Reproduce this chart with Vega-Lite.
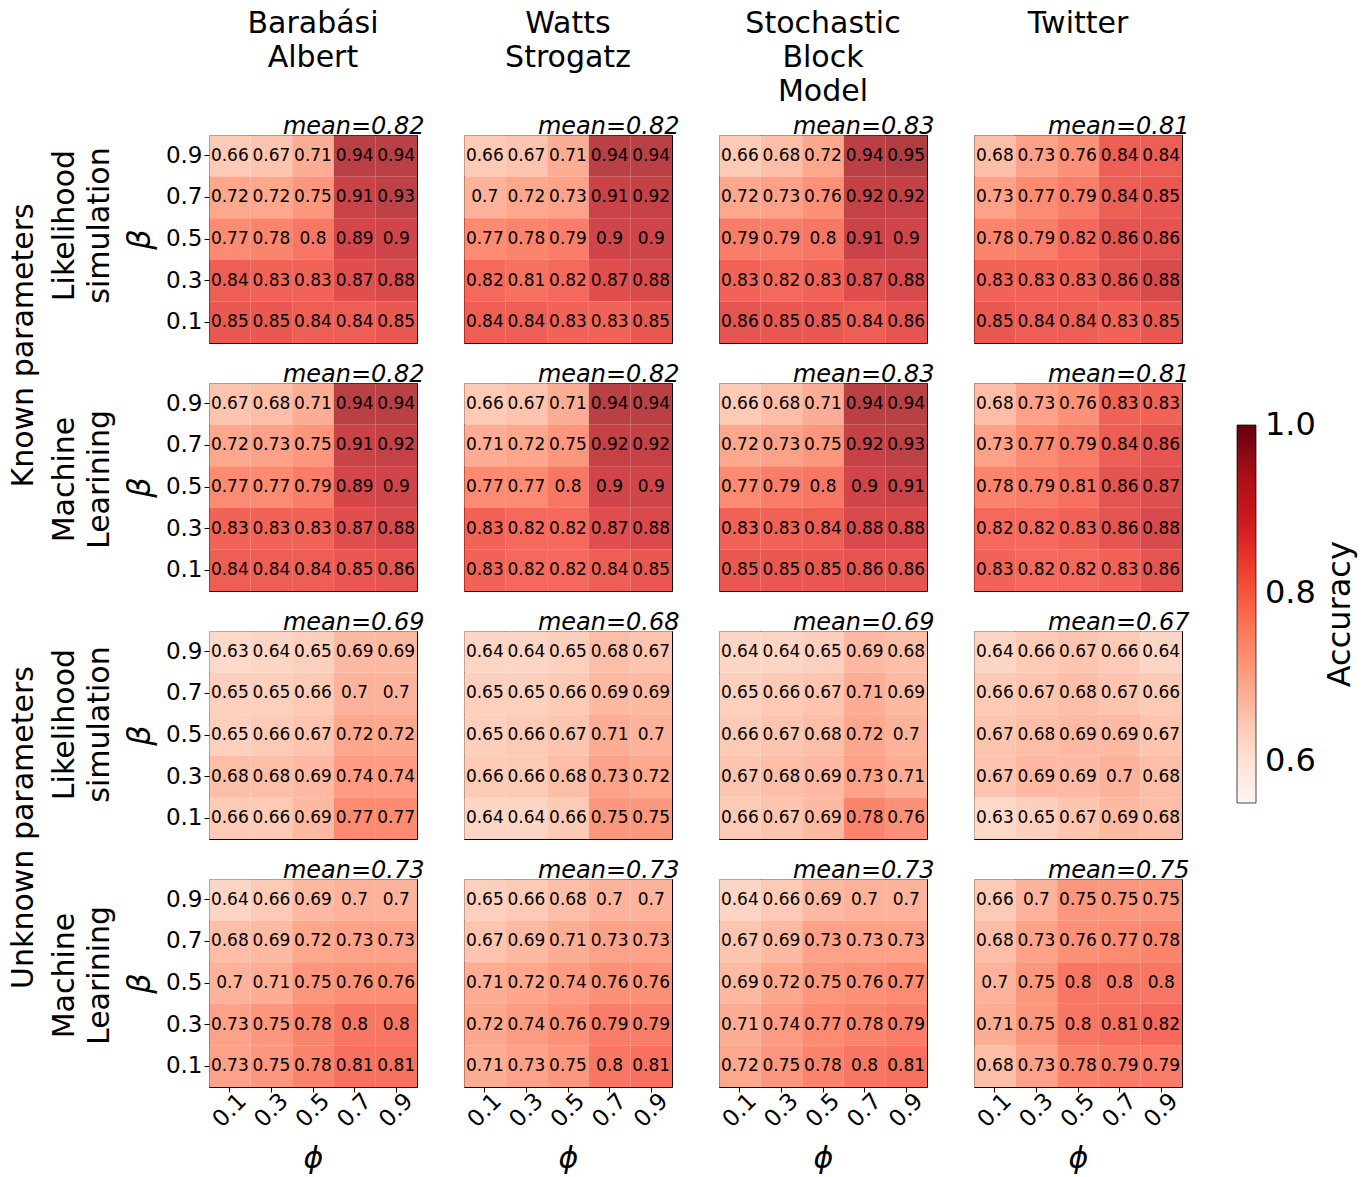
{
"$schema":"https://vega.github.io/schema/vega-lite/v6.json",
"padding":{"left":8,"top":8,"right":5,"bottom":5},
"background":"white",
"title":{"text":"Accuracy","orient":"right","angle":-90,"baseline":"top","anchor":"middle","fontSize":32,"offset":10,"dx":-23,"dy":-33},
"config":{
 "font":"DejaVu Sans",
 "view":{"stroke":"black","strokeWidth":1},
 "axis":{"grid":false,"domain":false,"labelFont":"DejaVu Sans","titleFont":"DejaVu Sans","labelColor":"black","titleColor":"black","tickColor":"black","titleFontWeight":"normal"},
 "title":{"font":"DejaVu Sans","fontWeight":"normal","color":"black"},
 "legend":{"gradientLength":378,"gradientThickness":19,"labelFontSize":32,"titleFontSize":32,"titleFontWeight":"normal","labelFont":"DejaVu Sans","titleFont":"DejaVu Sans","labelColor":"black","titleColor":"black","labelOverlap":false,"gradientStrokeColor":"black","gradientStrokeWidth":0.7}
},
"datasets":{
"kls_ba":[{"phi":0.1,"beta":0.9,"acc":0.66},{"phi":0.3,"beta":0.9,"acc":0.67},{"phi":0.5,"beta":0.9,"acc":0.71},{"phi":0.7,"beta":0.9,"acc":0.94},{"phi":0.9,"beta":0.9,"acc":0.94},{"phi":0.1,"beta":0.7,"acc":0.72},{"phi":0.3,"beta":0.7,"acc":0.72},{"phi":0.5,"beta":0.7,"acc":0.75},{"phi":0.7,"beta":0.7,"acc":0.91},{"phi":0.9,"beta":0.7,"acc":0.93},{"phi":0.1,"beta":0.5,"acc":0.77},{"phi":0.3,"beta":0.5,"acc":0.78},{"phi":0.5,"beta":0.5,"acc":0.8},{"phi":0.7,"beta":0.5,"acc":0.89},{"phi":0.9,"beta":0.5,"acc":0.9},{"phi":0.1,"beta":0.3,"acc":0.84},{"phi":0.3,"beta":0.3,"acc":0.83},{"phi":0.5,"beta":0.3,"acc":0.83},{"phi":0.7,"beta":0.3,"acc":0.87},{"phi":0.9,"beta":0.3,"acc":0.88},{"phi":0.1,"beta":0.1,"acc":0.85},{"phi":0.3,"beta":0.1,"acc":0.85},{"phi":0.5,"beta":0.1,"acc":0.84},{"phi":0.7,"beta":0.1,"acc":0.84},{"phi":0.9,"beta":0.1,"acc":0.85}],
"kls_ws":[{"phi":0.1,"beta":0.9,"acc":0.66},{"phi":0.3,"beta":0.9,"acc":0.67},{"phi":0.5,"beta":0.9,"acc":0.71},{"phi":0.7,"beta":0.9,"acc":0.94},{"phi":0.9,"beta":0.9,"acc":0.94},{"phi":0.1,"beta":0.7,"acc":0.7},{"phi":0.3,"beta":0.7,"acc":0.72},{"phi":0.5,"beta":0.7,"acc":0.73},{"phi":0.7,"beta":0.7,"acc":0.91},{"phi":0.9,"beta":0.7,"acc":0.92},{"phi":0.1,"beta":0.5,"acc":0.77},{"phi":0.3,"beta":0.5,"acc":0.78},{"phi":0.5,"beta":0.5,"acc":0.79},{"phi":0.7,"beta":0.5,"acc":0.9},{"phi":0.9,"beta":0.5,"acc":0.9},{"phi":0.1,"beta":0.3,"acc":0.82},{"phi":0.3,"beta":0.3,"acc":0.81},{"phi":0.5,"beta":0.3,"acc":0.82},{"phi":0.7,"beta":0.3,"acc":0.87},{"phi":0.9,"beta":0.3,"acc":0.88},{"phi":0.1,"beta":0.1,"acc":0.84},{"phi":0.3,"beta":0.1,"acc":0.84},{"phi":0.5,"beta":0.1,"acc":0.83},{"phi":0.7,"beta":0.1,"acc":0.83},{"phi":0.9,"beta":0.1,"acc":0.85}],
"kls_sbm":[{"phi":0.1,"beta":0.9,"acc":0.66},{"phi":0.3,"beta":0.9,"acc":0.68},{"phi":0.5,"beta":0.9,"acc":0.72},{"phi":0.7,"beta":0.9,"acc":0.94},{"phi":0.9,"beta":0.9,"acc":0.95},{"phi":0.1,"beta":0.7,"acc":0.72},{"phi":0.3,"beta":0.7,"acc":0.73},{"phi":0.5,"beta":0.7,"acc":0.76},{"phi":0.7,"beta":0.7,"acc":0.92},{"phi":0.9,"beta":0.7,"acc":0.92},{"phi":0.1,"beta":0.5,"acc":0.79},{"phi":0.3,"beta":0.5,"acc":0.79},{"phi":0.5,"beta":0.5,"acc":0.8},{"phi":0.7,"beta":0.5,"acc":0.91},{"phi":0.9,"beta":0.5,"acc":0.9},{"phi":0.1,"beta":0.3,"acc":0.83},{"phi":0.3,"beta":0.3,"acc":0.82},{"phi":0.5,"beta":0.3,"acc":0.83},{"phi":0.7,"beta":0.3,"acc":0.87},{"phi":0.9,"beta":0.3,"acc":0.88},{"phi":0.1,"beta":0.1,"acc":0.86},{"phi":0.3,"beta":0.1,"acc":0.85},{"phi":0.5,"beta":0.1,"acc":0.85},{"phi":0.7,"beta":0.1,"acc":0.84},{"phi":0.9,"beta":0.1,"acc":0.86}],
"kls_tw":[{"phi":0.1,"beta":0.9,"acc":0.68},{"phi":0.3,"beta":0.9,"acc":0.73},{"phi":0.5,"beta":0.9,"acc":0.76},{"phi":0.7,"beta":0.9,"acc":0.84},{"phi":0.9,"beta":0.9,"acc":0.84},{"phi":0.1,"beta":0.7,"acc":0.73},{"phi":0.3,"beta":0.7,"acc":0.77},{"phi":0.5,"beta":0.7,"acc":0.79},{"phi":0.7,"beta":0.7,"acc":0.84},{"phi":0.9,"beta":0.7,"acc":0.85},{"phi":0.1,"beta":0.5,"acc":0.78},{"phi":0.3,"beta":0.5,"acc":0.79},{"phi":0.5,"beta":0.5,"acc":0.82},{"phi":0.7,"beta":0.5,"acc":0.86},{"phi":0.9,"beta":0.5,"acc":0.86},{"phi":0.1,"beta":0.3,"acc":0.83},{"phi":0.3,"beta":0.3,"acc":0.83},{"phi":0.5,"beta":0.3,"acc":0.83},{"phi":0.7,"beta":0.3,"acc":0.86},{"phi":0.9,"beta":0.3,"acc":0.88},{"phi":0.1,"beta":0.1,"acc":0.85},{"phi":0.3,"beta":0.1,"acc":0.84},{"phi":0.5,"beta":0.1,"acc":0.84},{"phi":0.7,"beta":0.1,"acc":0.83},{"phi":0.9,"beta":0.1,"acc":0.85}],
"kml_ba":[{"phi":0.1,"beta":0.9,"acc":0.67},{"phi":0.3,"beta":0.9,"acc":0.68},{"phi":0.5,"beta":0.9,"acc":0.71},{"phi":0.7,"beta":0.9,"acc":0.94},{"phi":0.9,"beta":0.9,"acc":0.94},{"phi":0.1,"beta":0.7,"acc":0.72},{"phi":0.3,"beta":0.7,"acc":0.73},{"phi":0.5,"beta":0.7,"acc":0.75},{"phi":0.7,"beta":0.7,"acc":0.91},{"phi":0.9,"beta":0.7,"acc":0.92},{"phi":0.1,"beta":0.5,"acc":0.77},{"phi":0.3,"beta":0.5,"acc":0.77},{"phi":0.5,"beta":0.5,"acc":0.79},{"phi":0.7,"beta":0.5,"acc":0.89},{"phi":0.9,"beta":0.5,"acc":0.9},{"phi":0.1,"beta":0.3,"acc":0.83},{"phi":0.3,"beta":0.3,"acc":0.83},{"phi":0.5,"beta":0.3,"acc":0.83},{"phi":0.7,"beta":0.3,"acc":0.87},{"phi":0.9,"beta":0.3,"acc":0.88},{"phi":0.1,"beta":0.1,"acc":0.84},{"phi":0.3,"beta":0.1,"acc":0.84},{"phi":0.5,"beta":0.1,"acc":0.84},{"phi":0.7,"beta":0.1,"acc":0.85},{"phi":0.9,"beta":0.1,"acc":0.86}],
"kml_ws":[{"phi":0.1,"beta":0.9,"acc":0.66},{"phi":0.3,"beta":0.9,"acc":0.67},{"phi":0.5,"beta":0.9,"acc":0.71},{"phi":0.7,"beta":0.9,"acc":0.94},{"phi":0.9,"beta":0.9,"acc":0.94},{"phi":0.1,"beta":0.7,"acc":0.71},{"phi":0.3,"beta":0.7,"acc":0.72},{"phi":0.5,"beta":0.7,"acc":0.75},{"phi":0.7,"beta":0.7,"acc":0.92},{"phi":0.9,"beta":0.7,"acc":0.92},{"phi":0.1,"beta":0.5,"acc":0.77},{"phi":0.3,"beta":0.5,"acc":0.77},{"phi":0.5,"beta":0.5,"acc":0.8},{"phi":0.7,"beta":0.5,"acc":0.9},{"phi":0.9,"beta":0.5,"acc":0.9},{"phi":0.1,"beta":0.3,"acc":0.83},{"phi":0.3,"beta":0.3,"acc":0.82},{"phi":0.5,"beta":0.3,"acc":0.82},{"phi":0.7,"beta":0.3,"acc":0.87},{"phi":0.9,"beta":0.3,"acc":0.88},{"phi":0.1,"beta":0.1,"acc":0.83},{"phi":0.3,"beta":0.1,"acc":0.82},{"phi":0.5,"beta":0.1,"acc":0.82},{"phi":0.7,"beta":0.1,"acc":0.84},{"phi":0.9,"beta":0.1,"acc":0.85}],
"kml_sbm":[{"phi":0.1,"beta":0.9,"acc":0.66},{"phi":0.3,"beta":0.9,"acc":0.68},{"phi":0.5,"beta":0.9,"acc":0.71},{"phi":0.7,"beta":0.9,"acc":0.94},{"phi":0.9,"beta":0.9,"acc":0.94},{"phi":0.1,"beta":0.7,"acc":0.72},{"phi":0.3,"beta":0.7,"acc":0.73},{"phi":0.5,"beta":0.7,"acc":0.75},{"phi":0.7,"beta":0.7,"acc":0.92},{"phi":0.9,"beta":0.7,"acc":0.93},{"phi":0.1,"beta":0.5,"acc":0.77},{"phi":0.3,"beta":0.5,"acc":0.79},{"phi":0.5,"beta":0.5,"acc":0.8},{"phi":0.7,"beta":0.5,"acc":0.9},{"phi":0.9,"beta":0.5,"acc":0.91},{"phi":0.1,"beta":0.3,"acc":0.83},{"phi":0.3,"beta":0.3,"acc":0.83},{"phi":0.5,"beta":0.3,"acc":0.84},{"phi":0.7,"beta":0.3,"acc":0.88},{"phi":0.9,"beta":0.3,"acc":0.88},{"phi":0.1,"beta":0.1,"acc":0.85},{"phi":0.3,"beta":0.1,"acc":0.85},{"phi":0.5,"beta":0.1,"acc":0.85},{"phi":0.7,"beta":0.1,"acc":0.86},{"phi":0.9,"beta":0.1,"acc":0.86}],
"kml_tw":[{"phi":0.1,"beta":0.9,"acc":0.68},{"phi":0.3,"beta":0.9,"acc":0.73},{"phi":0.5,"beta":0.9,"acc":0.76},{"phi":0.7,"beta":0.9,"acc":0.83},{"phi":0.9,"beta":0.9,"acc":0.83},{"phi":0.1,"beta":0.7,"acc":0.73},{"phi":0.3,"beta":0.7,"acc":0.77},{"phi":0.5,"beta":0.7,"acc":0.79},{"phi":0.7,"beta":0.7,"acc":0.84},{"phi":0.9,"beta":0.7,"acc":0.86},{"phi":0.1,"beta":0.5,"acc":0.78},{"phi":0.3,"beta":0.5,"acc":0.79},{"phi":0.5,"beta":0.5,"acc":0.81},{"phi":0.7,"beta":0.5,"acc":0.86},{"phi":0.9,"beta":0.5,"acc":0.87},{"phi":0.1,"beta":0.3,"acc":0.82},{"phi":0.3,"beta":0.3,"acc":0.82},{"phi":0.5,"beta":0.3,"acc":0.83},{"phi":0.7,"beta":0.3,"acc":0.86},{"phi":0.9,"beta":0.3,"acc":0.88},{"phi":0.1,"beta":0.1,"acc":0.83},{"phi":0.3,"beta":0.1,"acc":0.82},{"phi":0.5,"beta":0.1,"acc":0.82},{"phi":0.7,"beta":0.1,"acc":0.83},{"phi":0.9,"beta":0.1,"acc":0.86}],
"uls_ba":[{"phi":0.1,"beta":0.9,"acc":0.63},{"phi":0.3,"beta":0.9,"acc":0.64},{"phi":0.5,"beta":0.9,"acc":0.65},{"phi":0.7,"beta":0.9,"acc":0.69},{"phi":0.9,"beta":0.9,"acc":0.69},{"phi":0.1,"beta":0.7,"acc":0.65},{"phi":0.3,"beta":0.7,"acc":0.65},{"phi":0.5,"beta":0.7,"acc":0.66},{"phi":0.7,"beta":0.7,"acc":0.7},{"phi":0.9,"beta":0.7,"acc":0.7},{"phi":0.1,"beta":0.5,"acc":0.65},{"phi":0.3,"beta":0.5,"acc":0.66},{"phi":0.5,"beta":0.5,"acc":0.67},{"phi":0.7,"beta":0.5,"acc":0.72},{"phi":0.9,"beta":0.5,"acc":0.72},{"phi":0.1,"beta":0.3,"acc":0.68},{"phi":0.3,"beta":0.3,"acc":0.68},{"phi":0.5,"beta":0.3,"acc":0.69},{"phi":0.7,"beta":0.3,"acc":0.74},{"phi":0.9,"beta":0.3,"acc":0.74},{"phi":0.1,"beta":0.1,"acc":0.66},{"phi":0.3,"beta":0.1,"acc":0.66},{"phi":0.5,"beta":0.1,"acc":0.69},{"phi":0.7,"beta":0.1,"acc":0.77},{"phi":0.9,"beta":0.1,"acc":0.77}],
"uls_ws":[{"phi":0.1,"beta":0.9,"acc":0.64},{"phi":0.3,"beta":0.9,"acc":0.64},{"phi":0.5,"beta":0.9,"acc":0.65},{"phi":0.7,"beta":0.9,"acc":0.68},{"phi":0.9,"beta":0.9,"acc":0.67},{"phi":0.1,"beta":0.7,"acc":0.65},{"phi":0.3,"beta":0.7,"acc":0.65},{"phi":0.5,"beta":0.7,"acc":0.66},{"phi":0.7,"beta":0.7,"acc":0.69},{"phi":0.9,"beta":0.7,"acc":0.69},{"phi":0.1,"beta":0.5,"acc":0.65},{"phi":0.3,"beta":0.5,"acc":0.66},{"phi":0.5,"beta":0.5,"acc":0.67},{"phi":0.7,"beta":0.5,"acc":0.71},{"phi":0.9,"beta":0.5,"acc":0.7},{"phi":0.1,"beta":0.3,"acc":0.66},{"phi":0.3,"beta":0.3,"acc":0.66},{"phi":0.5,"beta":0.3,"acc":0.68},{"phi":0.7,"beta":0.3,"acc":0.73},{"phi":0.9,"beta":0.3,"acc":0.72},{"phi":0.1,"beta":0.1,"acc":0.64},{"phi":0.3,"beta":0.1,"acc":0.64},{"phi":0.5,"beta":0.1,"acc":0.66},{"phi":0.7,"beta":0.1,"acc":0.75},{"phi":0.9,"beta":0.1,"acc":0.75}],
"uls_sbm":[{"phi":0.1,"beta":0.9,"acc":0.64},{"phi":0.3,"beta":0.9,"acc":0.64},{"phi":0.5,"beta":0.9,"acc":0.65},{"phi":0.7,"beta":0.9,"acc":0.69},{"phi":0.9,"beta":0.9,"acc":0.68},{"phi":0.1,"beta":0.7,"acc":0.65},{"phi":0.3,"beta":0.7,"acc":0.66},{"phi":0.5,"beta":0.7,"acc":0.67},{"phi":0.7,"beta":0.7,"acc":0.71},{"phi":0.9,"beta":0.7,"acc":0.69},{"phi":0.1,"beta":0.5,"acc":0.66},{"phi":0.3,"beta":0.5,"acc":0.67},{"phi":0.5,"beta":0.5,"acc":0.68},{"phi":0.7,"beta":0.5,"acc":0.72},{"phi":0.9,"beta":0.5,"acc":0.7},{"phi":0.1,"beta":0.3,"acc":0.67},{"phi":0.3,"beta":0.3,"acc":0.68},{"phi":0.5,"beta":0.3,"acc":0.69},{"phi":0.7,"beta":0.3,"acc":0.73},{"phi":0.9,"beta":0.3,"acc":0.71},{"phi":0.1,"beta":0.1,"acc":0.66},{"phi":0.3,"beta":0.1,"acc":0.67},{"phi":0.5,"beta":0.1,"acc":0.69},{"phi":0.7,"beta":0.1,"acc":0.78},{"phi":0.9,"beta":0.1,"acc":0.76}],
"uls_tw":[{"phi":0.1,"beta":0.9,"acc":0.64},{"phi":0.3,"beta":0.9,"acc":0.66},{"phi":0.5,"beta":0.9,"acc":0.67},{"phi":0.7,"beta":0.9,"acc":0.66},{"phi":0.9,"beta":0.9,"acc":0.64},{"phi":0.1,"beta":0.7,"acc":0.66},{"phi":0.3,"beta":0.7,"acc":0.67},{"phi":0.5,"beta":0.7,"acc":0.68},{"phi":0.7,"beta":0.7,"acc":0.67},{"phi":0.9,"beta":0.7,"acc":0.66},{"phi":0.1,"beta":0.5,"acc":0.67},{"phi":0.3,"beta":0.5,"acc":0.68},{"phi":0.5,"beta":0.5,"acc":0.69},{"phi":0.7,"beta":0.5,"acc":0.69},{"phi":0.9,"beta":0.5,"acc":0.67},{"phi":0.1,"beta":0.3,"acc":0.67},{"phi":0.3,"beta":0.3,"acc":0.69},{"phi":0.5,"beta":0.3,"acc":0.69},{"phi":0.7,"beta":0.3,"acc":0.7},{"phi":0.9,"beta":0.3,"acc":0.68},{"phi":0.1,"beta":0.1,"acc":0.63},{"phi":0.3,"beta":0.1,"acc":0.65},{"phi":0.5,"beta":0.1,"acc":0.67},{"phi":0.7,"beta":0.1,"acc":0.69},{"phi":0.9,"beta":0.1,"acc":0.68}],
"uml_ba":[{"phi":0.1,"beta":0.9,"acc":0.64},{"phi":0.3,"beta":0.9,"acc":0.66},{"phi":0.5,"beta":0.9,"acc":0.69},{"phi":0.7,"beta":0.9,"acc":0.7},{"phi":0.9,"beta":0.9,"acc":0.7},{"phi":0.1,"beta":0.7,"acc":0.68},{"phi":0.3,"beta":0.7,"acc":0.69},{"phi":0.5,"beta":0.7,"acc":0.72},{"phi":0.7,"beta":0.7,"acc":0.73},{"phi":0.9,"beta":0.7,"acc":0.73},{"phi":0.1,"beta":0.5,"acc":0.7},{"phi":0.3,"beta":0.5,"acc":0.71},{"phi":0.5,"beta":0.5,"acc":0.75},{"phi":0.7,"beta":0.5,"acc":0.76},{"phi":0.9,"beta":0.5,"acc":0.76},{"phi":0.1,"beta":0.3,"acc":0.73},{"phi":0.3,"beta":0.3,"acc":0.75},{"phi":0.5,"beta":0.3,"acc":0.78},{"phi":0.7,"beta":0.3,"acc":0.8},{"phi":0.9,"beta":0.3,"acc":0.8},{"phi":0.1,"beta":0.1,"acc":0.73},{"phi":0.3,"beta":0.1,"acc":0.75},{"phi":0.5,"beta":0.1,"acc":0.78},{"phi":0.7,"beta":0.1,"acc":0.81},{"phi":0.9,"beta":0.1,"acc":0.81}],
"uml_ws":[{"phi":0.1,"beta":0.9,"acc":0.65},{"phi":0.3,"beta":0.9,"acc":0.66},{"phi":0.5,"beta":0.9,"acc":0.68},{"phi":0.7,"beta":0.9,"acc":0.7},{"phi":0.9,"beta":0.9,"acc":0.7},{"phi":0.1,"beta":0.7,"acc":0.67},{"phi":0.3,"beta":0.7,"acc":0.69},{"phi":0.5,"beta":0.7,"acc":0.71},{"phi":0.7,"beta":0.7,"acc":0.73},{"phi":0.9,"beta":0.7,"acc":0.73},{"phi":0.1,"beta":0.5,"acc":0.71},{"phi":0.3,"beta":0.5,"acc":0.72},{"phi":0.5,"beta":0.5,"acc":0.74},{"phi":0.7,"beta":0.5,"acc":0.76},{"phi":0.9,"beta":0.5,"acc":0.76},{"phi":0.1,"beta":0.3,"acc":0.72},{"phi":0.3,"beta":0.3,"acc":0.74},{"phi":0.5,"beta":0.3,"acc":0.76},{"phi":0.7,"beta":0.3,"acc":0.79},{"phi":0.9,"beta":0.3,"acc":0.79},{"phi":0.1,"beta":0.1,"acc":0.71},{"phi":0.3,"beta":0.1,"acc":0.73},{"phi":0.5,"beta":0.1,"acc":0.75},{"phi":0.7,"beta":0.1,"acc":0.8},{"phi":0.9,"beta":0.1,"acc":0.81}],
"uml_sbm":[{"phi":0.1,"beta":0.9,"acc":0.64},{"phi":0.3,"beta":0.9,"acc":0.66},{"phi":0.5,"beta":0.9,"acc":0.69},{"phi":0.7,"beta":0.9,"acc":0.7},{"phi":0.9,"beta":0.9,"acc":0.7},{"phi":0.1,"beta":0.7,"acc":0.67},{"phi":0.3,"beta":0.7,"acc":0.69},{"phi":0.5,"beta":0.7,"acc":0.73},{"phi":0.7,"beta":0.7,"acc":0.73},{"phi":0.9,"beta":0.7,"acc":0.73},{"phi":0.1,"beta":0.5,"acc":0.69},{"phi":0.3,"beta":0.5,"acc":0.72},{"phi":0.5,"beta":0.5,"acc":0.75},{"phi":0.7,"beta":0.5,"acc":0.76},{"phi":0.9,"beta":0.5,"acc":0.77},{"phi":0.1,"beta":0.3,"acc":0.71},{"phi":0.3,"beta":0.3,"acc":0.74},{"phi":0.5,"beta":0.3,"acc":0.77},{"phi":0.7,"beta":0.3,"acc":0.78},{"phi":0.9,"beta":0.3,"acc":0.79},{"phi":0.1,"beta":0.1,"acc":0.72},{"phi":0.3,"beta":0.1,"acc":0.75},{"phi":0.5,"beta":0.1,"acc":0.78},{"phi":0.7,"beta":0.1,"acc":0.8},{"phi":0.9,"beta":0.1,"acc":0.81}],
"uml_tw":[{"phi":0.1,"beta":0.9,"acc":0.66},{"phi":0.3,"beta":0.9,"acc":0.7},{"phi":0.5,"beta":0.9,"acc":0.75},{"phi":0.7,"beta":0.9,"acc":0.75},{"phi":0.9,"beta":0.9,"acc":0.75},{"phi":0.1,"beta":0.7,"acc":0.68},{"phi":0.3,"beta":0.7,"acc":0.73},{"phi":0.5,"beta":0.7,"acc":0.76},{"phi":0.7,"beta":0.7,"acc":0.77},{"phi":0.9,"beta":0.7,"acc":0.78},{"phi":0.1,"beta":0.5,"acc":0.7},{"phi":0.3,"beta":0.5,"acc":0.75},{"phi":0.5,"beta":0.5,"acc":0.8},{"phi":0.7,"beta":0.5,"acc":0.8},{"phi":0.9,"beta":0.5,"acc":0.8},{"phi":0.1,"beta":0.3,"acc":0.71},{"phi":0.3,"beta":0.3,"acc":0.75},{"phi":0.5,"beta":0.3,"acc":0.8},{"phi":0.7,"beta":0.3,"acc":0.81},{"phi":0.9,"beta":0.3,"acc":0.82},{"phi":0.1,"beta":0.1,"acc":0.68},{"phi":0.3,"beta":0.1,"acc":0.73},{"phi":0.5,"beta":0.1,"acc":0.78},{"phi":0.7,"beta":0.1,"acc":0.79},{"phi":0.9,"beta":0.1,"acc":0.79}]
},
"spacing":17,
"vconcat":[
{"title":{"text":"Known parameters","orient":"left","fontSize":30,"offset":10,"dx":104},
 "spacing":17,
 "vconcat":[
 {"spacing":38,"hconcat":[
  {"width":208,"height":208,"data":{"name":"kls_ba"},
   "title":{"text":["Barabási","Albert"," "],"frame":"group","anchor":"middle","fontSize":30,"lineHeight":34,"offset":7},
   "encoding":{"x":{"field":"phi","type":"ordinal","axis":{"orient":"top","labels":false,"ticks":false,"title":"mean=0.82","titleAnchor":"end","titleAlign":"right","titleX":215,"titleBaseline":"alphabetic","titleFontStyle":"italic","titleFontSize":24,"titlePadding":2}}},
   "layer":[
    {"mark":{"type":"rect","opacity":0.8},"encoding":{"y":{"field":"beta","type":"ordinal","sort":"descending","axis":{"orient":"left","title":"β","titleFontStyle":"italic","titleFontSize":32,"titlePadding":9,"labelFontSize":23,"tickSize":5,"labelPadding":2}},"color":{"field":"acc","type":"quantitative","scale":{"domain":[0.55,0.60625,0.6625,0.71875,0.775,0.83125,0.8875,0.94375,1.0005],"range":["#fff5f0","#fee0d2","#fcbba1","#fc9272","#fb6a4a","#ef3b2c","#cb181d","#a50f15","#67000d"],"interpolate":"rgb","nice":false,"zero":false},"legend":{"title":null,"values":[0.6,0.8,1],"format":".1f","orient":"none","legendX":1028,"legendY":290,"labelBaseline":"middle","labelOffset":9,"gradientOpacity":1}}}},
    {"mark":{"type":"text","fontSize":17,"color":"black"},"encoding":{"y":{"field":"beta","type":"ordinal","sort":"descending","axis":{"orient":"left","labels":false,"ticks":false,"offset":95,"title":["Likelihood","simulation"],"titleFontSize":30,"titleLineHeight":35,"titlePadding":0,"titleY":90}},"text":{"field":"acc","type":"quantitative"}}}
   ],
   "resolve":{"axis":{"y":"independent"}}},
  {"width":208,"height":208,"data":{"name":"kls_ws"},
   "title":{"text":["Watts","Strogatz"," "],"frame":"group","anchor":"middle","fontSize":30,"lineHeight":34,"offset":7},
   "encoding":{"x":{"field":"phi","type":"ordinal","axis":{"orient":"top","labels":false,"ticks":false,"title":"mean=0.82","titleAnchor":"end","titleAlign":"right","titleX":215,"titleBaseline":"alphabetic","titleFontStyle":"italic","titleFontSize":24,"titlePadding":2}},"y":{"field":"beta","type":"ordinal","sort":"descending","axis":null}},
   "layer":[
    {"mark":{"type":"rect","opacity":0.8},"encoding":{"color":{"field":"acc","type":"quantitative","scale":{"domain":[0.55,0.60625,0.6625,0.71875,0.775,0.83125,0.8875,0.94375,1.0005],"range":["#fff5f0","#fee0d2","#fcbba1","#fc9272","#fb6a4a","#ef3b2c","#cb181d","#a50f15","#67000d"],"interpolate":"rgb","nice":false,"zero":false},"legend":{"title":null,"values":[0.6,0.8,1],"format":".1f","orient":"none","legendX":1028,"legendY":290,"labelBaseline":"middle","labelOffset":9,"gradientOpacity":1}}}},
    {"mark":{"type":"text","fontSize":17,"color":"black"},"encoding":{"text":{"field":"acc","type":"quantitative"}}}
   ]},
  {"width":208,"height":208,"data":{"name":"kls_sbm"},
   "title":{"text":["Stochastic","Block","Model"],"frame":"group","anchor":"middle","fontSize":30,"lineHeight":34,"offset":7},
   "encoding":{"x":{"field":"phi","type":"ordinal","axis":{"orient":"top","labels":false,"ticks":false,"title":"mean=0.83","titleAnchor":"end","titleAlign":"right","titleX":215,"titleBaseline":"alphabetic","titleFontStyle":"italic","titleFontSize":24,"titlePadding":2}},"y":{"field":"beta","type":"ordinal","sort":"descending","axis":null}},
   "layer":[
    {"mark":{"type":"rect","opacity":0.8},"encoding":{"color":{"field":"acc","type":"quantitative","scale":{"domain":[0.55,0.60625,0.6625,0.71875,0.775,0.83125,0.8875,0.94375,1.0005],"range":["#fff5f0","#fee0d2","#fcbba1","#fc9272","#fb6a4a","#ef3b2c","#cb181d","#a50f15","#67000d"],"interpolate":"rgb","nice":false,"zero":false},"legend":{"title":null,"values":[0.6,0.8,1],"format":".1f","orient":"none","legendX":1028,"legendY":290,"labelBaseline":"middle","labelOffset":9,"gradientOpacity":1}}}},
    {"mark":{"type":"text","fontSize":17,"color":"black"},"encoding":{"text":{"field":"acc","type":"quantitative"}}}
   ]},
  {"width":208,"height":208,"data":{"name":"kls_tw"},
   "title":{"text":["Twitter"," "," "],"frame":"group","anchor":"middle","fontSize":30,"lineHeight":34,"offset":7},
   "encoding":{"x":{"field":"phi","type":"ordinal","axis":{"orient":"top","labels":false,"ticks":false,"title":"mean=0.81","titleAnchor":"end","titleAlign":"right","titleX":215,"titleBaseline":"alphabetic","titleFontStyle":"italic","titleFontSize":24,"titlePadding":2}},"y":{"field":"beta","type":"ordinal","sort":"descending","axis":null}},
   "layer":[
    {"mark":{"type":"rect","opacity":0.8},"encoding":{"color":{"field":"acc","type":"quantitative","scale":{"domain":[0.55,0.60625,0.6625,0.71875,0.775,0.83125,0.8875,0.94375,1.0005],"range":["#fff5f0","#fee0d2","#fcbba1","#fc9272","#fb6a4a","#ef3b2c","#cb181d","#a50f15","#67000d"],"interpolate":"rgb","nice":false,"zero":false},"legend":{"title":null,"values":[0.6,0.8,1],"format":".1f","orient":"none","legendX":1028,"legendY":290,"labelBaseline":"middle","labelOffset":9,"gradientOpacity":1}}}},
    {"mark":{"type":"text","fontSize":17,"color":"black"},"encoding":{"text":{"field":"acc","type":"quantitative"}}}
   ]}
 ]},
 {"spacing":38,"hconcat":[
  {"width":208,"height":208,"data":{"name":"kml_ba"},
   "encoding":{"x":{"field":"phi","type":"ordinal","axis":{"orient":"top","labels":false,"ticks":false,"title":"mean=0.82","titleAnchor":"end","titleAlign":"right","titleX":215,"titleBaseline":"alphabetic","titleFontStyle":"italic","titleFontSize":24,"titlePadding":2}}},
   "layer":[
    {"mark":{"type":"rect","opacity":0.8},"encoding":{"y":{"field":"beta","type":"ordinal","sort":"descending","axis":{"orient":"left","title":"β","titleFontStyle":"italic","titleFontSize":32,"titlePadding":9,"labelFontSize":23,"tickSize":5,"labelPadding":2}},"color":{"field":"acc","type":"quantitative","scale":{"domain":[0.55,0.60625,0.6625,0.71875,0.775,0.83125,0.8875,0.94375,1.0005],"range":["#fff5f0","#fee0d2","#fcbba1","#fc9272","#fb6a4a","#ef3b2c","#cb181d","#a50f15","#67000d"],"interpolate":"rgb","nice":false,"zero":false},"legend":{"title":null,"values":[0.6,0.8,1],"format":".1f","orient":"none","legendX":1028,"legendY":290,"labelBaseline":"middle","labelOffset":9,"gradientOpacity":1}}}},
    {"mark":{"type":"text","fontSize":17,"color":"black"},"encoding":{"y":{"field":"beta","type":"ordinal","sort":"descending","axis":{"orient":"left","labels":false,"ticks":false,"offset":95,"title":["Machine","Learining"],"titleFontSize":30,"titleLineHeight":35,"titlePadding":0,"titleY":96}},"text":{"field":"acc","type":"quantitative"}}}
   ],
   "resolve":{"axis":{"y":"independent"}}},
  {"width":208,"height":208,"data":{"name":"kml_ws"},
   "encoding":{"x":{"field":"phi","type":"ordinal","axis":{"orient":"top","labels":false,"ticks":false,"title":"mean=0.82","titleAnchor":"end","titleAlign":"right","titleX":215,"titleBaseline":"alphabetic","titleFontStyle":"italic","titleFontSize":24,"titlePadding":2}},"y":{"field":"beta","type":"ordinal","sort":"descending","axis":null}},
   "layer":[
    {"mark":{"type":"rect","opacity":0.8},"encoding":{"color":{"field":"acc","type":"quantitative","scale":{"domain":[0.55,0.60625,0.6625,0.71875,0.775,0.83125,0.8875,0.94375,1.0005],"range":["#fff5f0","#fee0d2","#fcbba1","#fc9272","#fb6a4a","#ef3b2c","#cb181d","#a50f15","#67000d"],"interpolate":"rgb","nice":false,"zero":false},"legend":{"title":null,"values":[0.6,0.8,1],"format":".1f","orient":"none","legendX":1028,"legendY":290,"labelBaseline":"middle","labelOffset":9,"gradientOpacity":1}}}},
    {"mark":{"type":"text","fontSize":17,"color":"black"},"encoding":{"text":{"field":"acc","type":"quantitative"}}}
   ]},
  {"width":208,"height":208,"data":{"name":"kml_sbm"},
   "encoding":{"x":{"field":"phi","type":"ordinal","axis":{"orient":"top","labels":false,"ticks":false,"title":"mean=0.83","titleAnchor":"end","titleAlign":"right","titleX":215,"titleBaseline":"alphabetic","titleFontStyle":"italic","titleFontSize":24,"titlePadding":2}},"y":{"field":"beta","type":"ordinal","sort":"descending","axis":null}},
   "layer":[
    {"mark":{"type":"rect","opacity":0.8},"encoding":{"color":{"field":"acc","type":"quantitative","scale":{"domain":[0.55,0.60625,0.6625,0.71875,0.775,0.83125,0.8875,0.94375,1.0005],"range":["#fff5f0","#fee0d2","#fcbba1","#fc9272","#fb6a4a","#ef3b2c","#cb181d","#a50f15","#67000d"],"interpolate":"rgb","nice":false,"zero":false},"legend":{"title":null,"values":[0.6,0.8,1],"format":".1f","orient":"none","legendX":1028,"legendY":290,"labelBaseline":"middle","labelOffset":9,"gradientOpacity":1}}}},
    {"mark":{"type":"text","fontSize":17,"color":"black"},"encoding":{"text":{"field":"acc","type":"quantitative"}}}
   ]},
  {"width":208,"height":208,"data":{"name":"kml_tw"},
   "encoding":{"x":{"field":"phi","type":"ordinal","axis":{"orient":"top","labels":false,"ticks":false,"title":"mean=0.81","titleAnchor":"end","titleAlign":"right","titleX":215,"titleBaseline":"alphabetic","titleFontStyle":"italic","titleFontSize":24,"titlePadding":2}},"y":{"field":"beta","type":"ordinal","sort":"descending","axis":null}},
   "layer":[
    {"mark":{"type":"rect","opacity":0.8},"encoding":{"color":{"field":"acc","type":"quantitative","scale":{"domain":[0.55,0.60625,0.6625,0.71875,0.775,0.83125,0.8875,0.94375,1.0005],"range":["#fff5f0","#fee0d2","#fcbba1","#fc9272","#fb6a4a","#ef3b2c","#cb181d","#a50f15","#67000d"],"interpolate":"rgb","nice":false,"zero":false},"legend":{"title":null,"values":[0.6,0.8,1],"format":".1f","orient":"none","legendX":1028,"legendY":290,"labelBaseline":"middle","labelOffset":9,"gradientOpacity":1}}}},
    {"mark":{"type":"text","fontSize":17,"color":"black"},"encoding":{"text":{"field":"acc","type":"quantitative"}}}
   ]}
 ]}
 ]},
{"title":{"text":"Unknown parameters","orient":"left","fontSize":30,"offset":10,"dx":185},
 "spacing":17,
 "vconcat":[
 {"spacing":38,"hconcat":[
  {"width":208,"height":208,"data":{"name":"uls_ba"},
   "encoding":{"x":{"field":"phi","type":"ordinal","axis":{"orient":"top","labels":false,"ticks":false,"title":"mean=0.69","titleAnchor":"end","titleAlign":"right","titleX":215,"titleBaseline":"alphabetic","titleFontStyle":"italic","titleFontSize":24,"titlePadding":2}}},
   "layer":[
    {"mark":{"type":"rect","opacity":0.8},"encoding":{"y":{"field":"beta","type":"ordinal","sort":"descending","axis":{"orient":"left","title":"β","titleFontStyle":"italic","titleFontSize":32,"titlePadding":9,"labelFontSize":23,"tickSize":5,"labelPadding":2}},"color":{"field":"acc","type":"quantitative","scale":{"domain":[0.55,0.60625,0.6625,0.71875,0.775,0.83125,0.8875,0.94375,1.0005],"range":["#fff5f0","#fee0d2","#fcbba1","#fc9272","#fb6a4a","#ef3b2c","#cb181d","#a50f15","#67000d"],"interpolate":"rgb","nice":false,"zero":false},"legend":{"title":null,"values":[0.6,0.8,1],"format":".1f","orient":"none","legendX":1028,"legendY":290,"labelBaseline":"middle","labelOffset":9,"gradientOpacity":1}}}},
    {"mark":{"type":"text","fontSize":17,"color":"black"},"encoding":{"y":{"field":"beta","type":"ordinal","sort":"descending","axis":{"orient":"left","labels":false,"ticks":false,"offset":95,"title":["Likelihood","simulation"],"titleFontSize":30,"titleLineHeight":35,"titlePadding":0,"titleY":93}},"text":{"field":"acc","type":"quantitative"}}}
   ],
   "resolve":{"axis":{"y":"independent"}}},
  {"width":208,"height":208,"data":{"name":"uls_ws"},
   "encoding":{"x":{"field":"phi","type":"ordinal","axis":{"orient":"top","labels":false,"ticks":false,"title":"mean=0.68","titleAnchor":"end","titleAlign":"right","titleX":215,"titleBaseline":"alphabetic","titleFontStyle":"italic","titleFontSize":24,"titlePadding":2}},"y":{"field":"beta","type":"ordinal","sort":"descending","axis":null}},
   "layer":[
    {"mark":{"type":"rect","opacity":0.8},"encoding":{"color":{"field":"acc","type":"quantitative","scale":{"domain":[0.55,0.60625,0.6625,0.71875,0.775,0.83125,0.8875,0.94375,1.0005],"range":["#fff5f0","#fee0d2","#fcbba1","#fc9272","#fb6a4a","#ef3b2c","#cb181d","#a50f15","#67000d"],"interpolate":"rgb","nice":false,"zero":false},"legend":{"title":null,"values":[0.6,0.8,1],"format":".1f","orient":"none","legendX":1028,"legendY":290,"labelBaseline":"middle","labelOffset":9,"gradientOpacity":1}}}},
    {"mark":{"type":"text","fontSize":17,"color":"black"},"encoding":{"text":{"field":"acc","type":"quantitative"}}}
   ]},
  {"width":208,"height":208,"data":{"name":"uls_sbm"},
   "encoding":{"x":{"field":"phi","type":"ordinal","axis":{"orient":"top","labels":false,"ticks":false,"title":"mean=0.69","titleAnchor":"end","titleAlign":"right","titleX":215,"titleBaseline":"alphabetic","titleFontStyle":"italic","titleFontSize":24,"titlePadding":2}},"y":{"field":"beta","type":"ordinal","sort":"descending","axis":null}},
   "layer":[
    {"mark":{"type":"rect","opacity":0.8},"encoding":{"color":{"field":"acc","type":"quantitative","scale":{"domain":[0.55,0.60625,0.6625,0.71875,0.775,0.83125,0.8875,0.94375,1.0005],"range":["#fff5f0","#fee0d2","#fcbba1","#fc9272","#fb6a4a","#ef3b2c","#cb181d","#a50f15","#67000d"],"interpolate":"rgb","nice":false,"zero":false},"legend":{"title":null,"values":[0.6,0.8,1],"format":".1f","orient":"none","legendX":1028,"legendY":290,"labelBaseline":"middle","labelOffset":9,"gradientOpacity":1}}}},
    {"mark":{"type":"text","fontSize":17,"color":"black"},"encoding":{"text":{"field":"acc","type":"quantitative"}}}
   ]},
  {"width":208,"height":208,"data":{"name":"uls_tw"},
   "encoding":{"x":{"field":"phi","type":"ordinal","axis":{"orient":"top","labels":false,"ticks":false,"title":"mean=0.67","titleAnchor":"end","titleAlign":"right","titleX":215,"titleBaseline":"alphabetic","titleFontStyle":"italic","titleFontSize":24,"titlePadding":2}},"y":{"field":"beta","type":"ordinal","sort":"descending","axis":null}},
   "layer":[
    {"mark":{"type":"rect","opacity":0.8},"encoding":{"color":{"field":"acc","type":"quantitative","scale":{"domain":[0.55,0.60625,0.6625,0.71875,0.775,0.83125,0.8875,0.94375,1.0005],"range":["#fff5f0","#fee0d2","#fcbba1","#fc9272","#fb6a4a","#ef3b2c","#cb181d","#a50f15","#67000d"],"interpolate":"rgb","nice":false,"zero":false},"legend":{"title":null,"values":[0.6,0.8,1],"format":".1f","orient":"none","legendX":1028,"legendY":290,"labelBaseline":"middle","labelOffset":9,"gradientOpacity":1}}}},
    {"mark":{"type":"text","fontSize":17,"color":"black"},"encoding":{"text":{"field":"acc","type":"quantitative"}}}
   ]}
 ]},
 {"spacing":38,"hconcat":[
  {"width":208,"height":208,"data":{"name":"uml_ba"},
   "layer":[
    {"mark":{"type":"rect","opacity":0.8},"encoding":{"x":{"field":"phi","type":"ordinal","axis":{"orient":"bottom","title":"ϕ","titleFontStyle":"italic","titleFontSize":30,"labelAngle":-45,"labelAlign":"center","labelBaseline":"middle","labelPadding":18,"labelFontSize":23,"tickSize":5,"titlePadding":12}},"y":{"field":"beta","type":"ordinal","sort":"descending","axis":{"orient":"left","title":"β","titleFontStyle":"italic","titleFontSize":32,"titlePadding":9,"labelFontSize":23,"tickSize":5,"labelPadding":2}},"color":{"field":"acc","type":"quantitative","scale":{"domain":[0.55,0.60625,0.6625,0.71875,0.775,0.83125,0.8875,0.94375,1.0005],"range":["#fff5f0","#fee0d2","#fcbba1","#fc9272","#fb6a4a","#ef3b2c","#cb181d","#a50f15","#67000d"],"interpolate":"rgb","nice":false,"zero":false},"legend":{"title":null,"values":[0.6,0.8,1],"format":".1f","orient":"none","legendX":1028,"legendY":290,"labelBaseline":"middle","labelOffset":9,"gradientOpacity":1}}}},
    {"mark":{"type":"text","fontSize":17,"color":"black"},"encoding":{"x":{"field":"phi","type":"ordinal","axis":{"orient":"top","labels":false,"ticks":false,"title":"mean=0.73","titleAnchor":"end","titleAlign":"right","titleX":215,"titleBaseline":"alphabetic","titleFontStyle":"italic","titleFontSize":24,"titlePadding":2}},"y":{"field":"beta","type":"ordinal","sort":"descending","axis":{"orient":"left","labels":false,"ticks":false,"offset":95,"title":["Machine","Learining"],"titleFontSize":30,"titleLineHeight":35,"titlePadding":0,"titleY":96}},"text":{"field":"acc","type":"quantitative"}}}
   ],
   "resolve":{"axis":{"x":"independent","y":"independent"}}},
  {"width":208,"height":208,"data":{"name":"uml_ws"},
   "encoding":{"y":{"field":"beta","type":"ordinal","sort":"descending","axis":null}},
   "layer":[
    {"mark":{"type":"rect","opacity":0.8},"encoding":{"x":{"field":"phi","type":"ordinal","axis":{"orient":"bottom","title":"ϕ","titleFontStyle":"italic","titleFontSize":30,"labelAngle":-45,"labelAlign":"center","labelBaseline":"middle","labelPadding":18,"labelFontSize":23,"tickSize":5,"titlePadding":12}},"color":{"field":"acc","type":"quantitative","scale":{"domain":[0.55,0.60625,0.6625,0.71875,0.775,0.83125,0.8875,0.94375,1.0005],"range":["#fff5f0","#fee0d2","#fcbba1","#fc9272","#fb6a4a","#ef3b2c","#cb181d","#a50f15","#67000d"],"interpolate":"rgb","nice":false,"zero":false},"legend":{"title":null,"values":[0.6,0.8,1],"format":".1f","orient":"none","legendX":1028,"legendY":290,"labelBaseline":"middle","labelOffset":9,"gradientOpacity":1}}}},
    {"mark":{"type":"text","fontSize":17,"color":"black"},"encoding":{"x":{"field":"phi","type":"ordinal","axis":{"orient":"top","labels":false,"ticks":false,"title":"mean=0.73","titleAnchor":"end","titleAlign":"right","titleX":215,"titleBaseline":"alphabetic","titleFontStyle":"italic","titleFontSize":24,"titlePadding":2}},"text":{"field":"acc","type":"quantitative"}}}
   ],
   "resolve":{"axis":{"x":"independent"}}},
  {"width":208,"height":208,"data":{"name":"uml_sbm"},
   "encoding":{"y":{"field":"beta","type":"ordinal","sort":"descending","axis":null}},
   "layer":[
    {"mark":{"type":"rect","opacity":0.8},"encoding":{"x":{"field":"phi","type":"ordinal","axis":{"orient":"bottom","title":"ϕ","titleFontStyle":"italic","titleFontSize":30,"labelAngle":-45,"labelAlign":"center","labelBaseline":"middle","labelPadding":18,"labelFontSize":23,"tickSize":5,"titlePadding":12}},"color":{"field":"acc","type":"quantitative","scale":{"domain":[0.55,0.60625,0.6625,0.71875,0.775,0.83125,0.8875,0.94375,1.0005],"range":["#fff5f0","#fee0d2","#fcbba1","#fc9272","#fb6a4a","#ef3b2c","#cb181d","#a50f15","#67000d"],"interpolate":"rgb","nice":false,"zero":false},"legend":{"title":null,"values":[0.6,0.8,1],"format":".1f","orient":"none","legendX":1028,"legendY":290,"labelBaseline":"middle","labelOffset":9,"gradientOpacity":1}}}},
    {"mark":{"type":"text","fontSize":17,"color":"black"},"encoding":{"x":{"field":"phi","type":"ordinal","axis":{"orient":"top","labels":false,"ticks":false,"title":"mean=0.73","titleAnchor":"end","titleAlign":"right","titleX":215,"titleBaseline":"alphabetic","titleFontStyle":"italic","titleFontSize":24,"titlePadding":2}},"text":{"field":"acc","type":"quantitative"}}}
   ],
   "resolve":{"axis":{"x":"independent"}}},
  {"width":208,"height":208,"data":{"name":"uml_tw"},
   "encoding":{"y":{"field":"beta","type":"ordinal","sort":"descending","axis":null}},
   "layer":[
    {"mark":{"type":"rect","opacity":0.8},"encoding":{"x":{"field":"phi","type":"ordinal","axis":{"orient":"bottom","title":"ϕ","titleFontStyle":"italic","titleFontSize":30,"labelAngle":-45,"labelAlign":"center","labelBaseline":"middle","labelPadding":18,"labelFontSize":23,"tickSize":5,"titlePadding":12}},"color":{"field":"acc","type":"quantitative","scale":{"domain":[0.55,0.60625,0.6625,0.71875,0.775,0.83125,0.8875,0.94375,1.0005],"range":["#fff5f0","#fee0d2","#fcbba1","#fc9272","#fb6a4a","#ef3b2c","#cb181d","#a50f15","#67000d"],"interpolate":"rgb","nice":false,"zero":false},"legend":{"title":null,"values":[0.6,0.8,1],"format":".1f","orient":"none","legendX":1028,"legendY":290,"labelBaseline":"middle","labelOffset":9,"gradientOpacity":1}}}},
    {"mark":{"type":"text","fontSize":17,"color":"black"},"encoding":{"x":{"field":"phi","type":"ordinal","axis":{"orient":"top","labels":false,"ticks":false,"title":"mean=0.75","titleAnchor":"end","titleAlign":"right","titleX":215,"titleBaseline":"alphabetic","titleFontStyle":"italic","titleFontSize":24,"titlePadding":2}},"text":{"field":"acc","type":"quantitative"}}}
   ],
   "resolve":{"axis":{"x":"independent"}}}
 ]}
 ]}
]
}
